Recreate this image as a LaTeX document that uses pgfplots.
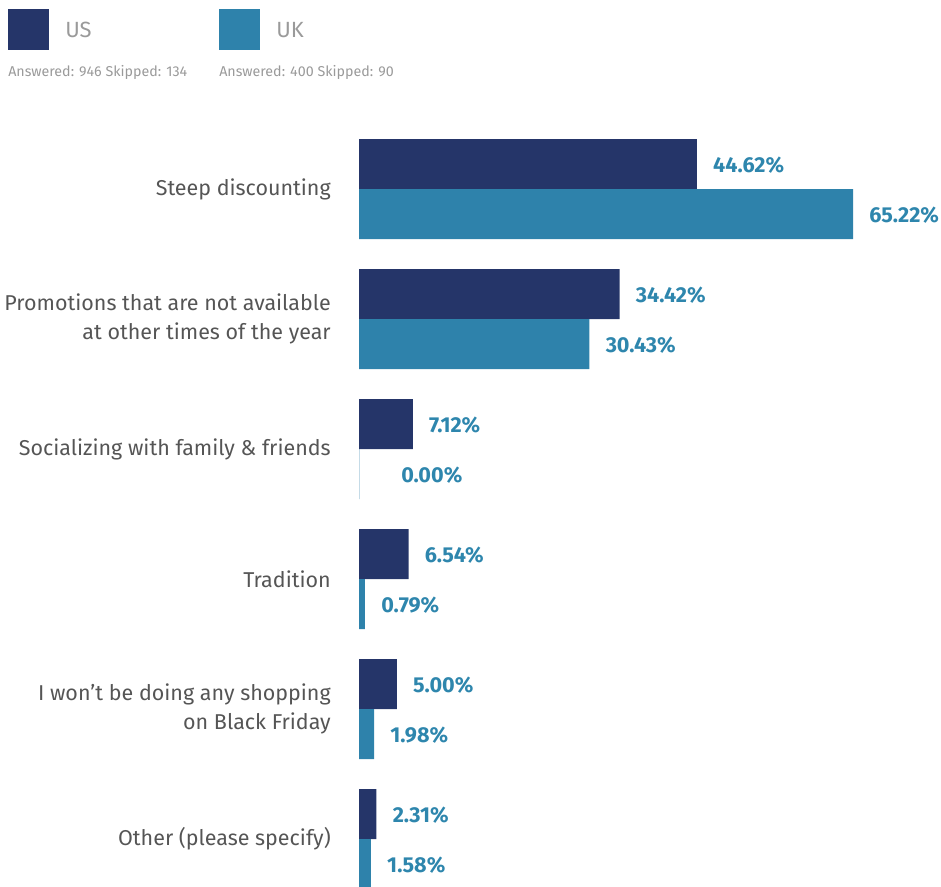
\documentclass[border=0pt]{standalone}
\usepackage{fontspec}
\setmainfont{Fira Sans}
\usepackage{pgfplots}
\pgfplotsset{compat=1.18}
\usepackage{pgfplotstable}
\definecolor{us}{HTML}{253569}
\definecolor{uk}{HTML}{2E82AB}
\definecolor{lbl}{HTML}{2E86AD}
\definecolor{cat}{HTML}{555555}
\definecolor{leg}{HTML}{9A9A9A}
\definecolor{zero}{HTML}{C9DCE8}

\pgfplotstableread{
x y off
44.62 0 16
34.42 1 16
7.12 2 16
6.54 3 16
5.00 4 16
2.31 5 16
}\usdata
\pgfplotstableread{
x y off
65.22 0 16
30.43 1 16
0.00 2 42
0.79 3 16
1.98 4 16
1.58 5 16
}\ukdata

\begin{document}
\begin{tikzpicture}
\path[use as bounding box] (0,0) rectangle (705.75pt,-664.5pt);
% legend
\fill[us] (6pt,-6.75pt) rectangle (36.75pt,-37.5pt);
\node[anchor=west, inner sep=0pt, text=leg, font=\fontsize{16.5}{18}\selectfont] at (48.75pt,-22.5pt) {US};
\node[anchor=west, inner sep=0pt, text=leg, font=\fontsize{10.7}{12}\selectfont] at (6pt,-54pt) {Answered: 946 Skipped: 134};
\fill[uk] (164.25pt,-6.75pt) rectangle (195pt,-37.5pt);
\node[anchor=west, inner sep=0pt, text=leg, font=\fontsize{16.5}{18}\selectfont] at (207pt,-22.5pt) {UK};
\node[anchor=west, inner sep=0pt, text=leg, font=\fontsize{10.7}{12}\selectfont] at (164.25pt,-54pt) {Answered: 400 Skipped: 90};

\begin{axis}[
  at={(269.25pt,-104.25pt)}, anchor=north west,
  scale only axis, width=370.5pt, height=562.5pt,
  xmin=0, xmax=65.22, ymin=-0.3846, ymax=5.3846,
  y dir=reverse, clip=false,
  axis line style={draw=none}, major tick length=0pt,
  xtick=\empty,
  ytick={0,1,2,3,4,5},
  yticklabels={Steep discounting,{Promotions that are not available\\at other times of the year},{Socializing with family \& friends},Tradition,{I won’t be doing any shopping\\on Black Friday},Other (please specify)},
  yticklabel style={align=right, anchor=east, inner sep=0pt, xshift=-21pt, text=cat, font=\fontsize{16.1}{21.75}\selectfont},
  xbar, bar width=37.5pt,
  point meta=x,
  /pgf/number format/assume math mode=true,
]
\addplot[draw=zero, line width=0.7pt, bar shift=-18.75pt] coordinates {(0,2)};
\addplot[fill=us, draw=none, bar shift=18.75pt,
  visualization depends on={\thisrow{off} \as \myoff},
  nodes near coords={\pgfmathprintnumber[fixed,fixed zerofill,precision=2,assume math mode=true]{\pgfplotspointmeta}\%},
  nodes near coords style={anchor=west, inner sep=0pt, xshift={\myoff*0.75pt}, yshift=-1pt, text=lbl, font=\fontsize{16.2}{18}\selectfont\bfseries}]
  table[x=x,y=y] {\usdata};
\addplot[fill=uk, draw=none, bar shift=-18.75pt,
  visualization depends on={\thisrow{off} \as \myoff},
  nodes near coords={\pgfmathprintnumber[fixed,fixed zerofill,precision=2,assume math mode=true]{\pgfplotspointmeta}\%},
  nodes near coords style={anchor=west, inner sep=0pt, xshift={\myoff*0.75pt}, yshift=-1pt, text=lbl, font=\fontsize{16.2}{18}\selectfont\bfseries}]
  table[x=x,y=y] {\ukdata};
\end{axis}
\end{tikzpicture}
\end{document}
